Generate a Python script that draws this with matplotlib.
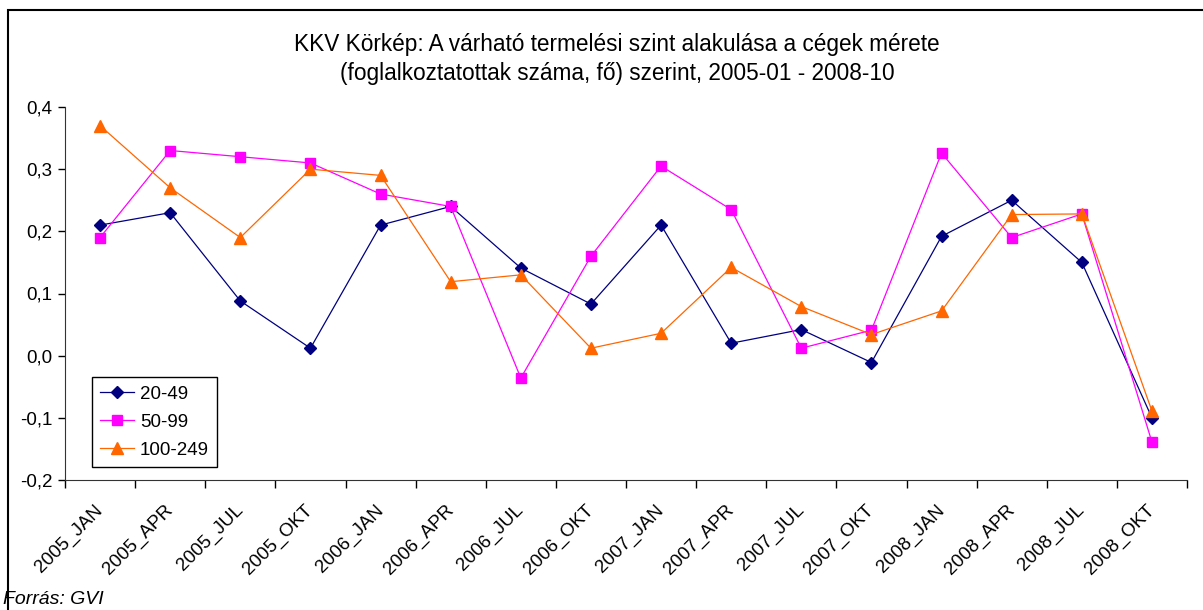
import matplotlib.pyplot as plt
from matplotlib.patches import Rectangle
from matplotlib.ticker import FixedLocator, FuncFormatter

plt.rcParams['font.family'] = ['Liberation Sans', 'DejaVu Sans']

periods = ["2005_JAN", "2005_APR", "2005_JUL", "2005_OKT",
           "2006_JAN", "2006_APR", "2006_JUL", "2006_OKT",
           "2007_JAN", "2007_APR", "2007_JUL", "2007_OKT",
           "2008_JAN", "2008_APR", "2008_JUL", "2008_OKT"]

s_20_49 = [0.21, 0.23, 0.088, 0.012, 0.21, 0.24, 0.141, 0.083,
           0.21, 0.02, 0.042, -0.011, 0.192, 0.25, 0.15, -0.10]
s_50_99 = [0.19, 0.33, 0.32, 0.31, 0.26, 0.24, -0.036, 0.16,
           0.305, 0.235, 0.012, 0.041, 0.326, 0.19, 0.228, -0.139]
s_100_249 = [0.37, 0.27, 0.19, 0.30, 0.29, 0.119, 0.13, 0.012,
             0.036, 0.142, 0.079, 0.034, 0.072, 0.227, 0.228, -0.089]

fig = plt.figure(figsize=(12.03, 6.10), dpi=100)
ax = fig.add_axes([65 / 1203, 130 / 610, 1122 / 1203, 373 / 610])

x = list(range(len(periods)))
ax.plot(x, s_20_49, '-D', color='#000080', lw=0.9, ms=6.5, label='20-49')
ax.plot(x, s_50_99, '-s', color='#FF00FF', lw=0.9, ms=7.5, label='50-99')
ax.plot(x, s_100_249, '-^', color='#FF6600', lw=0.9, ms=8.5, label='100-249')

ax.set_xlim(-0.5, len(periods) - 0.5)
ax.set_ylim(-0.2, 0.4)
ax.set_yticks([-0.2, -0.1, 0.0, 0.1, 0.2, 0.3, 0.4])
ax.yaxis.set_major_formatter(FuncFormatter(lambda v, p: f"{v:.1f}".replace('.', ',')))

ax.set_xticks(x)
ax.set_xticklabels(periods, rotation=45, ha='right', va='center',
                   rotation_mode='anchor')
ax.xaxis.set_minor_locator(FixedLocator([i - 0.5 for i in range(len(periods) + 1)]))
ax.tick_params(axis='x', which='major', length=0, pad=20, labelsize=13.5)
ax.tick_params(axis='x', which='minor', length=6, width=1, direction='out')
ax.tick_params(axis='y', length=5, width=1, direction='out', labelsize=13.5, pad=4)

for s in ['top', 'right']:
    ax.spines[s].set_visible(False)
for s in ['left', 'bottom']:
    ax.spines[s].set_color('#333333')

leg = ax.legend(loc='lower left', bbox_to_anchor=(0.024, 0.035), fontsize=13.5,
                fancybox=False, framealpha=1, edgecolor='black',
                handlelength=1.8, borderpad=0.45, labelspacing=0.58,
                handletextpad=0.3, borderaxespad=0)
leg.get_frame().set_linewidth(1)

fig.text(0.513, 0.903, "KKV Körkép: A várható termelési szint alakulása a cégek mérete\n"
         "(foglalkoztatottak száma, fő) szerint, 2005-01 - 2008-10",
         ha='center', va='center', fontsize=16.3, linespacing=1.3)

fig.text(3 / 1203, 2 / 610, "Forrás: GVI", fontsize=14, style='italic',
         ha='left', va='bottom')

fig.patches.append(Rectangle((8 / 1203, -0.1), 1.2, 1.1 - 10 / 610,
                             transform=fig.transFigure, fill=False,
                             edgecolor='black', lw=1.5))

fig.savefig('out.png', dpi=100)
